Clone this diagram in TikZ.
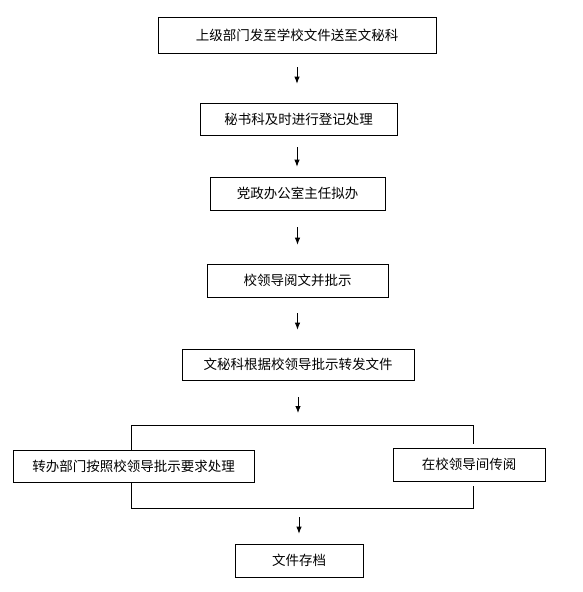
\documentclass[tikz,border=0pt]{standalone}
\usepackage{fontspec}
\newfontfamily\cjk{Noto Sans CJK SC}
\usetikzlibrary{arrows,arrows.meta,positioning,calc}

\begin{document}
\begin{tikzpicture}[x=1pt, y=-1pt,
    stepbox/.style={draw, line width=0.8pt, inner sep=0pt, align=center,
        font=\cjk\fontsize{13.5}{16}\selectfont},
    flow/.style={-{Latex[length=7pt,width=5.5pt]}, line width=0.8pt},
    branch/.style={line width=0.8pt}]
    \useasboundingbox (0,0) rectangle (582,592);

    % main chain
    \node[stepbox, minimum width=278pt, minimum height=36pt] (receive) at (297, 35) {上级部门发至学校文件送至文秘科};
    \node[stepbox, minimum width=197pt, minimum height=32pt] (register) at (298.5, 119) {秘书科及时进行登记处理};
    \node[stepbox, minimum width=175pt, minimum height=33pt] (draft) at (297.5, 193.5) {党政办公室主任拟办};
    \node[stepbox, minimum width=181pt, minimum height=33pt] (review) at (297.5, 280.5) {校领导阅文并批示};
    \node[stepbox, minimum width=232pt, minimum height=31pt] (forward) at (298, 364.5) {文秘科根据校领导批示转发文件};

    % two branches
    \node[stepbox, minimum width=241pt, minimum height=32pt] (handle) at (133.5, 466) {转办部门按照校领导批示要求处理};
    \node[stepbox, minimum width=152pt, minimum height=33pt] (circulate) at (469, 464.5) {在校领导间传阅};
    \node[stepbox, minimum width=128pt, minimum height=33pt] (archive) at (299, 560.5) {文件存档};

    \coordinate (splitL) at (131, 425);
    \coordinate (splitR) at (473, 425);
    \coordinate (joinL) at (131, 508);
    \coordinate (joinR) at (473, 508);

    % arrows between steps
    \draw[flow, shorten <=14pt, shorten >=19pt] (receive) -- (receive |- register.north);
    \draw[flow, shorten <=12pt, shorten >=10pt] (register.south -| receive) -- (receive |- draft.north);
    \draw[flow, shorten <=17pt, shorten >=19pt] (draft) -- (draft |- review.north);
    \draw[flow, shorten <=16pt, shorten >=19pt] (review) -- (review |- forward.north);
    \draw[flow, shorten <=17pt, shorten >=12pt] (forward) -- (forward |- splitL);

    \draw[branch] (handle.north -| splitL) -- (splitL) -- (splitR) -- ([yshift=4pt]circulate.north -| splitR);
    \draw[branch] (handle.south -| joinL) -- (joinL) -- (joinR) -- ([yshift=-5pt]circulate.south -| joinR);

    \draw[flow, shorten <=9pt, shorten >=10pt] (archive |- joinL) -- (archive);
\end{tikzpicture}
\end{document}
